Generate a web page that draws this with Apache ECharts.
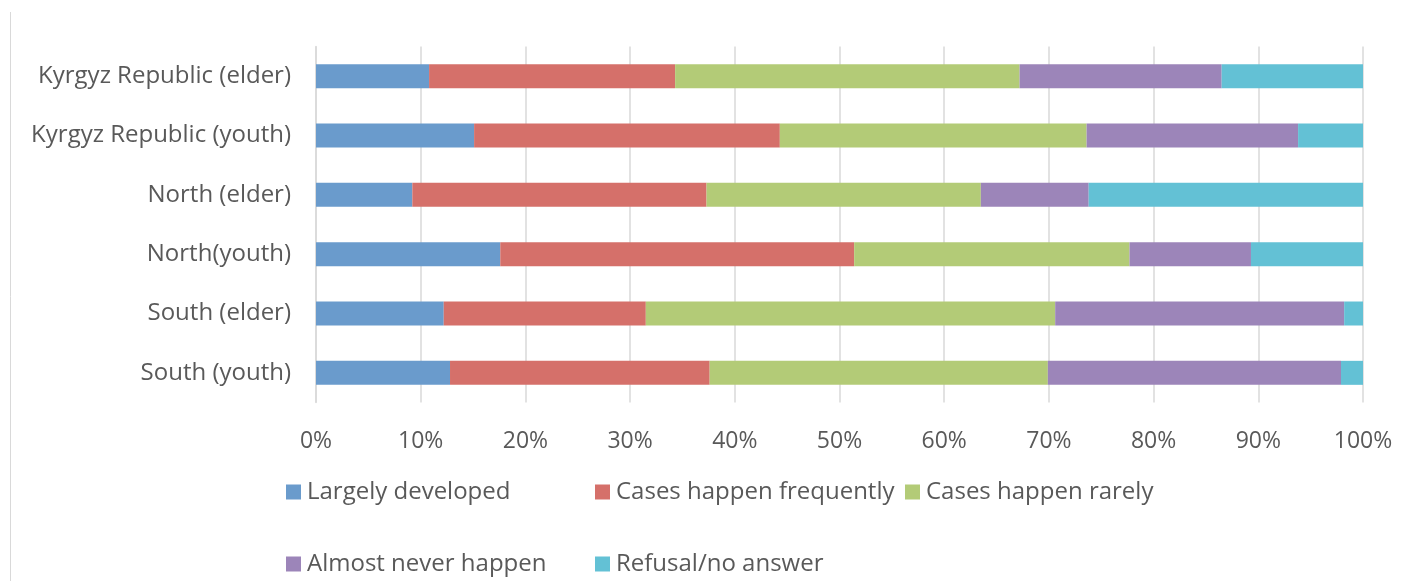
<!DOCTYPE html>
<html>
<head>
<meta charset="utf-8">
<title>Stacked responses by group</title>
<script src="https://cdn.jsdelivr.net/npm/echarts@6/dist/echarts.min.js"></script>
<style>
  html, body { margin: 0; padding: 0; background: #ffffff; }
  #chart { width: 1412px; height: 581px; }
</style>
</head>
<body>
<div id="chart"></div>
<script>
// Groups, listed top to bottom
const categories = [
  'Kyrgyz Republic (elder)',
  'Kyrgyz Republic (youth)',
  'North (elder)',
  'North(youth)',
  'South (elder)',
  'South (youth)'
];

// Share of answers (%) per group, same order as categories
const largelyDeveloped   = [10.8, 15.1,  9.2, 17.6, 12.2, 12.8];
const happenFrequently   = [23.5, 29.2, 28.1, 33.8, 19.3, 24.8];
const happenRarely       = [32.9, 29.3, 26.2, 26.3, 39.1, 32.3];
const almostNeverHappen  = [19.3, 20.2, 10.3, 11.6, 27.6, 28.0];
const refusalNoAnswer    = [13.5,  6.2, 26.2, 10.7,  1.8,  2.1];

const seriesNames = [
  'Largely developed',
  'Cases happen frequently',
  'Cases happen rarely',
  'Almost never happen',
  'Refusal/no answer'
];
const seriesValues = [largelyDeveloped, happenFrequently, happenRarely, almostNeverHappen, refusalNoAnswer];
const colors = ['#6a9bcc', '#d5706a', '#b3cb77', '#9c85b9', '#63c1d5'];

const textGrey = '#595959';
const fontFamily = '"Open Sans", "Noto Sans", sans-serif';

const chart = echarts.init(document.getElementById('chart'), null, { renderer: 'canvas' });

// Legend laid out as a grid: three columns, two rows
const legendCols = [286, 595, 905];
const legendRows = [480, 552];
const legendCells = [[0, 0], [1, 0], [2, 0], [0, 1], [1, 1]];

const legends = seriesNames.map((name, i) => ({
  data: [name],
  left: legendCols[legendCells[i][0]],
  top: legendRows[legendCells[i][1]],
  padding: 0,
  icon: 'rect',
  itemWidth: 15,
  itemHeight: 15,
  textStyle: {
    color: textGrey,
    fontSize: 24,
    lineHeight: 24,
    fontFamily: fontFamily,
    padding: [0, 0, 0, 1]
  }
}));

const option = {
  animation: false,
  backgroundColor: '#ffffff',
  grid: { left: 316, right: 49, top: 46.5, height: 356, containLabel: false },
  xAxis: {
    type: 'value',
    min: 0,
    max: 100,
    interval: 10,
    axisLine: { show: false },
    axisTick: { show: false },
    splitLine: { show: true, lineStyle: { color: '#d9d9d9', width: 1.5 } },
    axisLabel: {
      formatter: '{value}%',
      color: textGrey,
      fontSize: 23,
      fontFamily: fontFamily,
      margin: 27
    }
  },
  yAxis: {
    type: 'category',
    inverse: true,
    data: categories,
    axisLine: { show: true, lineStyle: { color: '#d9d9d9', width: 1.5 } },
    axisTick: { show: false },
    axisLabel: {
      color: textGrey,
      fontSize: 24,
      fontFamily: fontFamily,
      margin: 25
    }
  },
  legend: legends,
  graphic: [
    {
      type: 'line',
      shape: { x1: 10.5, y1: 12, x2: 10.5, y2: 581 },
      style: { stroke: '#d9d9d9', lineWidth: 1 }
    }
  ],
  series: seriesNames.map((name, i) => ({
    name: name,
    type: 'bar',
    stack: 'total',
    barWidth: 24,
    itemStyle: { color: colors[i] },
    emphasis: { disabled: true },
    data: seriesValues[i]
  }))
};

chart.setOption(option);
</script>
</body>
</html>
